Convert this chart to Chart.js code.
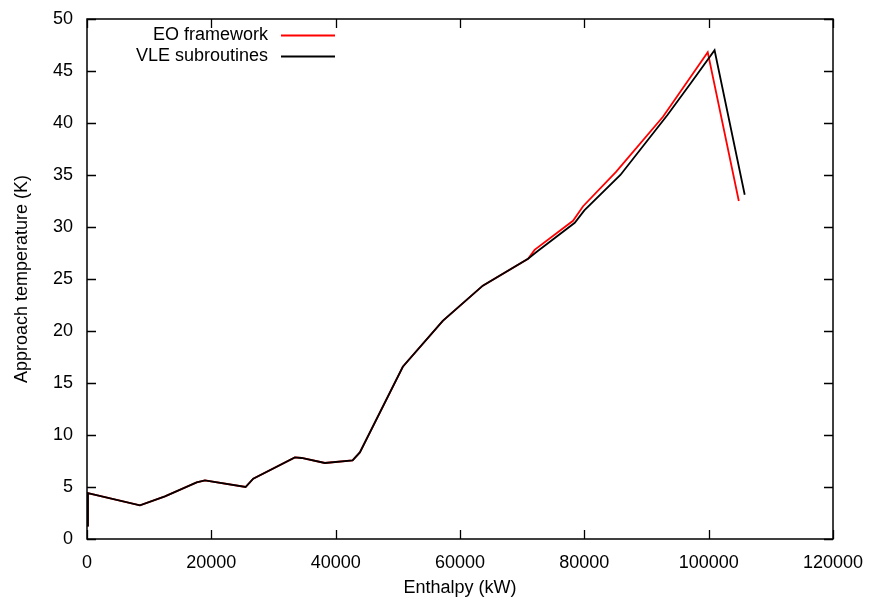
<!DOCTYPE html>
<html>
<head>
<meta charset="utf-8">
<script src="https://cdn.jsdelivr.net/npm/chart.js@4/dist/chart.umd.min.js"></script>
<style>
  html, body { margin: 0; padding: 0; background: #fff; }
  #wrap { width: 869px; height: 597px; }
</style>
</head>
<body>
<div id="wrap"><canvas id="c" width="869" height="597"></canvas></div>
<script>
// ---- data ----
const seriesNames = ["EO framework", "VLE subroutines"];
const seriesColors = ["#ff0000", "#000000"];

const vleX = [0, 150, 8520, 12540, 17640, 18970, 25510, 26740, 33440, 34520, 38260, 42720, 43890, 50800, 57230, 63670, 70950, 72300, 78460, 80000, 85800, 93400, 97200, 100950, 105800];
const vleY = [1.3, 4.4, 3.23, 4.1, 5.44, 5.63, 5.0, 5.8, 7.85, 7.79, 7.31, 7.56, 8.33, 16.56, 20.98, 24.36, 26.95, 27.6, 30.4, 31.6, 35.0, 40.8, 43.9, 47.0, 33.1];

const eoX = [0, 150, 8520, 12540, 17640, 18970, 25510, 26740, 33440, 34520, 38260, 42720, 43890, 50800, 57230, 63670, 70950, 72000, 78180, 79800, 85100, 92650, 96140, 99850, 104850];
const eoY = [1.3, 4.4, 3.23, 4.1, 5.44, 5.63, 5.0, 5.8, 7.85, 7.79, 7.31, 7.56, 8.33, 16.56, 20.98, 24.36, 26.95, 27.8, 30.6, 32.0, 35.3, 40.6, 43.6, 46.8, 32.5];

const xTicks = [0, 20000, 40000, 60000, 80000, 100000, 120000];
const yTicks = [0, 5, 10, 15, 20, 25, 30, 35, 40, 45, 50];
const xTitle = "Enthalpy (kW)";
const yTitle = "Approach temperature (K)";

const toPts = (xs, ys) => xs.map((x, i) => ({ x: x, y: ys[i] }));

const FONT = "'Liberation Sans', Arial, Helvetica, sans-serif";

const frameTicks = {
  id: 'frameTicks',
  afterDatasetsDraw(chart) {
    const { ctx, chartArea: a, scales } = chart;
    const L = 9;
    ctx.save();
    ctx.strokeStyle = '#000';
    ctx.lineWidth = 1.3;
    ctx.beginPath();
    scales.x.ticks.forEach(t => {
      const px = Math.round(scales.x.getPixelForValue(t.value)) + 0.5;
      ctx.moveTo(px, a.bottom); ctx.lineTo(px, a.bottom - L);
      ctx.moveTo(px, a.top); ctx.lineTo(px, a.top + L);
    });
    scales.y.ticks.forEach(t => {
      const py = Math.round(scales.y.getPixelForValue(t.value)) + 0.5;
      ctx.moveTo(a.left, py); ctx.lineTo(a.left + L, py);
      ctx.moveTo(a.right, py); ctx.lineTo(a.right - L, py);
    });
    ctx.stroke();
    ctx.lineWidth = 1.5;
    ctx.strokeRect(a.left, a.top, a.right - a.left, a.bottom - a.top);
    ctx.restore();
  }
};

const keyLegend = {
  id: 'keyLegend',
  afterDraw(chart) {
    const { ctx, chartArea: a } = chart;
    const textRight = a.left + 181;
    const lineX0 = a.left + 194, lineX1 = a.left + 248;
    const rows = [a.top + 16, a.top + 37];
    ctx.save();
    ctx.font = "18px " + FONT;
    ctx.textAlign = 'right';
    ctx.textBaseline = 'middle';
    ctx.fillStyle = '#000';
    chart.data.datasets.forEach((ds, i) => {
      const y = rows[i];
      ctx.fillText(ds.label, textRight, y);
      ctx.strokeStyle = ds.borderColor;
      ctx.lineWidth = 1.8;
      ctx.beginPath();
      ctx.moveTo(lineX0, y + 0.5); ctx.lineTo(lineX1, y + 0.5);
      ctx.stroke();
    });
    ctx.restore();
  }
};

const zeroPad = s => { s.paddingLeft = 0; s.paddingRight = 0; s.paddingTop = 0; s.paddingBottom = 0; };

new Chart(document.getElementById('c'), {
  type: 'scatter',
  data: {
    datasets: [
      { label: seriesNames[0], data: toPts(eoX, eoY), borderColor: seriesColors[0], backgroundColor: seriesColors[0], showLine: true, pointRadius: 0, borderWidth: 1.8, order: 1, tension: 0 },
      { label: seriesNames[1], data: toPts(vleX, vleY), borderColor: seriesColors[1], backgroundColor: seriesColors[1], showLine: true, pointRadius: 0, borderWidth: 1.8, order: 0, tension: 0 }
    ]
  },
  options: {
    responsive: false,
    animation: false,
    devicePixelRatio: 1,
    layout: { padding: { top: 19, right: 36, left: 0, bottom: 0 } },
    plugins: { legend: { display: false }, tooltip: { enabled: false } },
    scales: {
      x: {
        type: 'linear', min: 0, max: 120000,
        afterBuildTicks: s => { s.ticks = xTicks.map(v => ({ value: v })); },
        afterFit: s => { s.height = 58; zeroPad(s); },
        grid: { display: false, drawTicks: false },
        border: { display: false },
        ticks: { color: '#000', font: { family: FONT, size: 18 }, padding: 13, maxRotation: 0, autoSkip: false, callback: v => String(v) },
        title: { display: true, text: xTitle, color: '#000', font: { family: FONT, size: 18 }, padding: { top: 0, bottom: -2 } }
      },
      y: {
        type: 'linear', min: 0, max: 50,
        afterBuildTicks: s => { s.ticks = yTicks.map(v => ({ value: v })); },
        afterFit: s => { s.width = 87; zeroPad(s); },
        grid: { display: false, drawTicks: false },
        border: { display: false },
        ticks: { color: '#000', font: { family: FONT, size: 18 }, padding: 14, autoSkip: false, callback: v => String(v) },
        title: { display: true, text: yTitle, color: '#000', font: { family: FONT, size: 18 }, padding: { top: 11, bottom: 0 } }
      }
    }
  },
  plugins: [frameTicks, keyLegend]
});
</script>
</body>
</html>
